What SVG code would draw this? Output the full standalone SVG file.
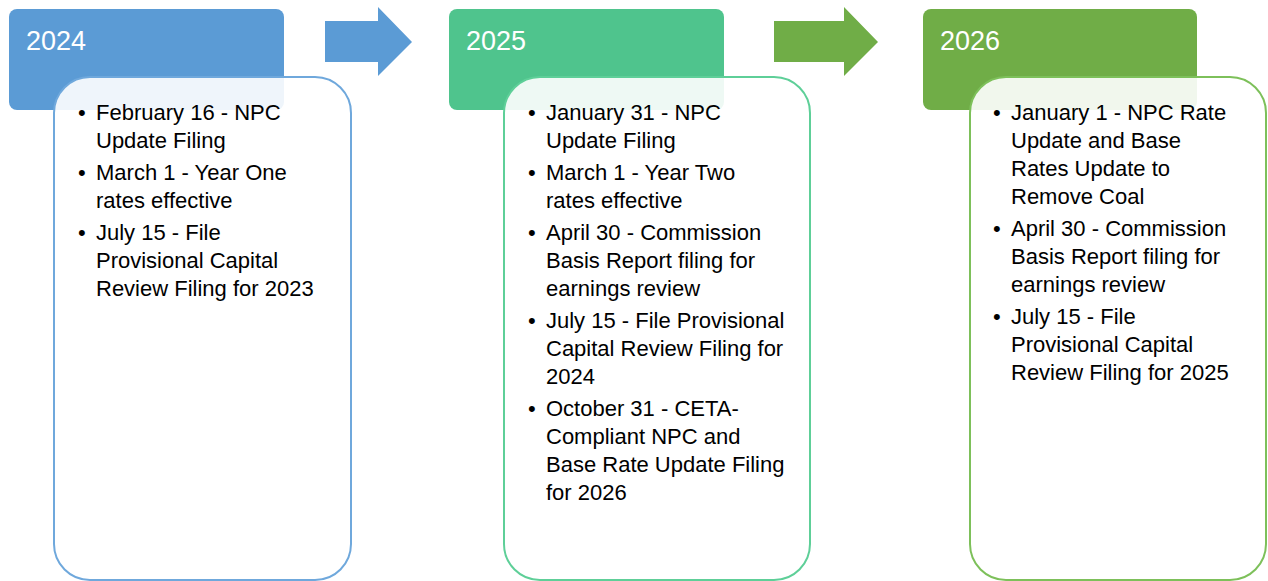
<svg xmlns="http://www.w3.org/2000/svg" width="1268" height="581" viewBox="0 0 1268 581">
<style>
.hdr-t{font-family:"Liberation Sans",Arial,sans-serif;font-size:27px;fill:#ffffff}
.b{font-family:"Liberation Sans",Arial,sans-serif;font-size:22px;fill:#000000}
.body{fill:#ffffff;fill-opacity:0.9;stroke-width:2}
</style>
<rect width="1268" height="581" fill="#ffffff"/>
<g id="connectors">
<polygon points="325,21 378,21 378,7 412,42 378,76 378,62 325,62" fill="#5B9BD5"/>
<polygon points="774,21 844,21 844,7 878,42 844,76 844,62 774,62" fill="#70AD47"/>
</g>
<g id="y2024">
<rect x="9" y="9" width="275" height="101" rx="8" fill="#5B9BD5"/>
<text class="hdr-t" x="26" y="50">2024</text>
<rect class="body" x="54" y="77" width="297" height="503" rx="36" stroke="#6FA8DC"/>
<text class="b"><tspan x="78" y="120">•</tspan><tspan x="96" y="120">February 16 - NPC</tspan><tspan x="96" y="148">Update Filing</tspan>
<tspan x="78" y="180">•</tspan><tspan x="96" y="180">March 1 - Year One</tspan><tspan x="96" y="208">rates effective</tspan>
<tspan x="78" y="240">•</tspan><tspan x="96" y="240">July 15 - File</tspan><tspan x="96" y="268">Provisional Capital</tspan><tspan x="96" y="296">Review Filing for 2023</tspan></text>
</g>
<g id="y2025">
<rect x="449" y="9" width="275" height="101" rx="8" fill="#4FC48D"/>
<text class="hdr-t" x="466" y="50">2025</text>
<rect class="body" x="504" y="77" width="306" height="503" rx="36" stroke="#5ECF98"/>
<text class="b"><tspan x="528" y="120">•</tspan><tspan x="546" y="120">January 31 - NPC</tspan><tspan x="546" y="148">Update Filing</tspan>
<tspan x="528" y="180">•</tspan><tspan x="546" y="180">March 1 - Year Two</tspan><tspan x="546" y="208">rates effective</tspan>
<tspan x="528" y="240">•</tspan><tspan x="546" y="240">April 30 - Commission</tspan><tspan x="546" y="268">Basis Report filing for</tspan><tspan x="546" y="296">earnings review</tspan>
<tspan x="528" y="328">•</tspan><tspan x="546" y="328">July 15 - File Provisional</tspan><tspan x="546" y="356">Capital Review Filing for</tspan><tspan x="546" y="384">2024</tspan>
<tspan x="528" y="416">•</tspan><tspan x="546" y="416">October 31 - CETA-</tspan><tspan x="546" y="444">Compliant NPC and</tspan><tspan x="546" y="472">Base Rate Update Filing</tspan><tspan x="546" y="500">for 2026</tspan></text>
</g>
<g id="y2026">
<rect x="923" y="9" width="274" height="101" rx="8" fill="#70AD47"/>
<text class="hdr-t" x="940" y="50">2026</text>
<rect class="body" x="970" y="77" width="296" height="503" rx="36" stroke="#7DC05A"/>
<text class="b"><tspan x="993" y="120">•</tspan><tspan x="1011" y="120">January 1 - NPC Rate</tspan><tspan x="1011" y="148">Update and Base</tspan><tspan x="1011" y="176">Rates Update to</tspan><tspan x="1011" y="204">Remove Coal</tspan>
<tspan x="993" y="236">•</tspan><tspan x="1011" y="236">April 30 - Commission</tspan><tspan x="1011" y="264">Basis Report filing for</tspan><tspan x="1011" y="292">earnings review</tspan>
<tspan x="993" y="324">•</tspan><tspan x="1011" y="324">July 15 - File</tspan><tspan x="1011" y="352">Provisional Capital</tspan><tspan x="1011" y="380">Review Filing for 2025</tspan></text>
</g>
</svg>
